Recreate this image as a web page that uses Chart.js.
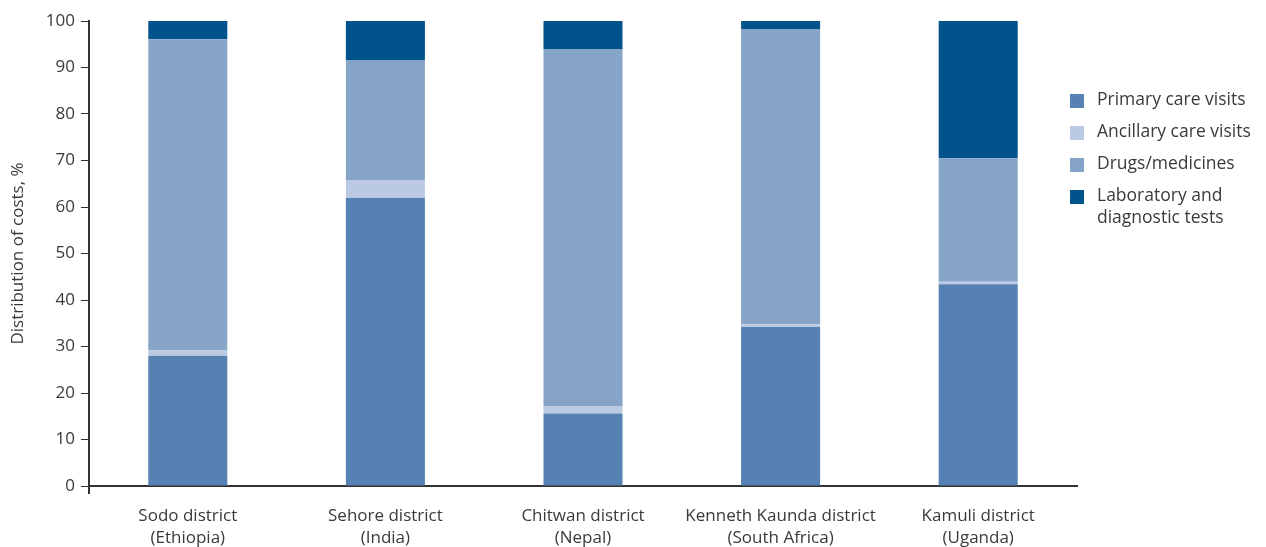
<!DOCTYPE html>
<html>
<head>
<meta charset="utf-8">
<script src="https://cdn.jsdelivr.net/npm/chart.js@4"></script>
<style>
  html, body { margin: 0; padding: 0; background: #fff; }
  #wrap { width: 1266px; height: 547px; }
</style>
</head>
<body>
<div id="wrap"><canvas id="graf"></canvas></div>
<script>
const distritos = [
  ['Sodo district', '(Ethiopia)'],
  ['Sehore district', '(India)'],
  ['Chitwan district', '(Nepal)'],
  ['Kenneth Kaunda district', '(South Africa)'],
  ['Kamuli district', '(Uganda)']
];
const primaria   = [28.0, 62.0, 15.6, 34.2, 43.4];
const auxiliar   = [1.2, 3.8, 1.6, 0.6, 0.5];
const farmacos   = [66.9, 25.8, 76.8, 63.5, 26.6];
const laboratorio = [3.9, 8.4, 6.0, 1.7, 29.5];
const nombres = ['Primary care visits', 'Ancillary care visits', 'Drugs/medicines', ['Laboratory and', 'diagnostic tests']];
const colores = ['#5682b3', '#bbcae2', '#86a4c8', '#02538b'];

const FUENTE = "'Open Sans', 'DejaVu Sans', sans-serif";
const TEXTO = '#3a3a3a';

// leyenda dibujada a mano, arriba a la derecha
const leyenda = {
  id: 'leyenda',
  afterDraw(chart) {
    const ctx = chart.ctx;
    const area = chart.chartArea;
    ctx.save();
    // eje y se alarga un poco bajo el cero
    ctx.strokeStyle = '#333';
    ctx.lineWidth = 2;
    ctx.beginPath();
    ctx.moveTo(area.left, area.bottom);
    ctx.lineTo(area.left, area.bottom + 8);
    ctx.stroke();

    ctx.font = '17.5px ' + FUENTE;
    ctx.textBaseline = 'middle';
    let y = 101;
    chart.data.datasets.forEach(ds => {
      ctx.fillStyle = ds.backgroundColor;
      ctx.fillRect(1070, y - 7, 14, 14);
      ctx.fillStyle = TEXTO;
      const lineas = Array.isArray(ds.label) ? ds.label : [ds.label];
      lineas.forEach((t, i) => ctx.fillText(t, 1097, y - 1 + i * 22));
      y += 32;
    });
    ctx.restore();
  }
};

new Chart(document.getElementById('graf'), {
  type: 'bar',
  data: {
    labels: distritos,
    datasets: [
      { label: nombres[0], data: primaria, backgroundColor: colores[0] },
      { label: nombres[1], data: auxiliar, backgroundColor: colores[1] },
      { label: nombres[2], data: farmacos, backgroundColor: colores[2] },
      { label: nombres[3], data: laboratorio, backgroundColor: colores[3] }
    ]
  },
  options: {
    responsive: true,
    maintainAspectRatio: false,
    animation: false,
    datasets: {
      bar: { barPercentage: 0.4, categoryPercentage: 1, borderWidth: 0 }
    },
    layout: {
      padding: { top: 21, right: 189, left: 0, bottom: 0 }
    },
    scales: {
      x: {
        stacked: true,
        grid: { display: false, drawTicks: false },
        border: { color: '#333', width: 2 },
        ticks: {
          color: TEXTO,
          padding: 20,
          maxRotation: 0,
          autoSkip: false,
          font: { family: FUENTE, size: 17, lineHeight: 1.25 }
        },
        afterFit: s => { s.height = 61; }
      },
      y: {
        stacked: true,
        min: 0,
        max: 100,
        grid: {
          drawOnChartArea: false,
          drawTicks: true,
          tickLength: 8,
          color: '#333'
        },
        border: { color: '#333', width: 2 },
        ticks: {
          stepSize: 10,
          color: TEXTO,
          padding: 6,
          font: { family: FUENTE, size: 17 }
        },
        title: {
          display: true,
          text: 'Distribution of costs, %',
          color: TEXTO,
          padding: { top: 8, bottom: 0 },
          font: { family: FUENTE, size: 17, lineHeight: 1.2 }
        },
        afterFit: s => { s.width = 89; }
      }
    },
    plugins: {
      legend: { display: false },
      tooltip: { enabled: false }
    }
  },
  plugins: [leyenda]
});
</script>
</body>
</html>
